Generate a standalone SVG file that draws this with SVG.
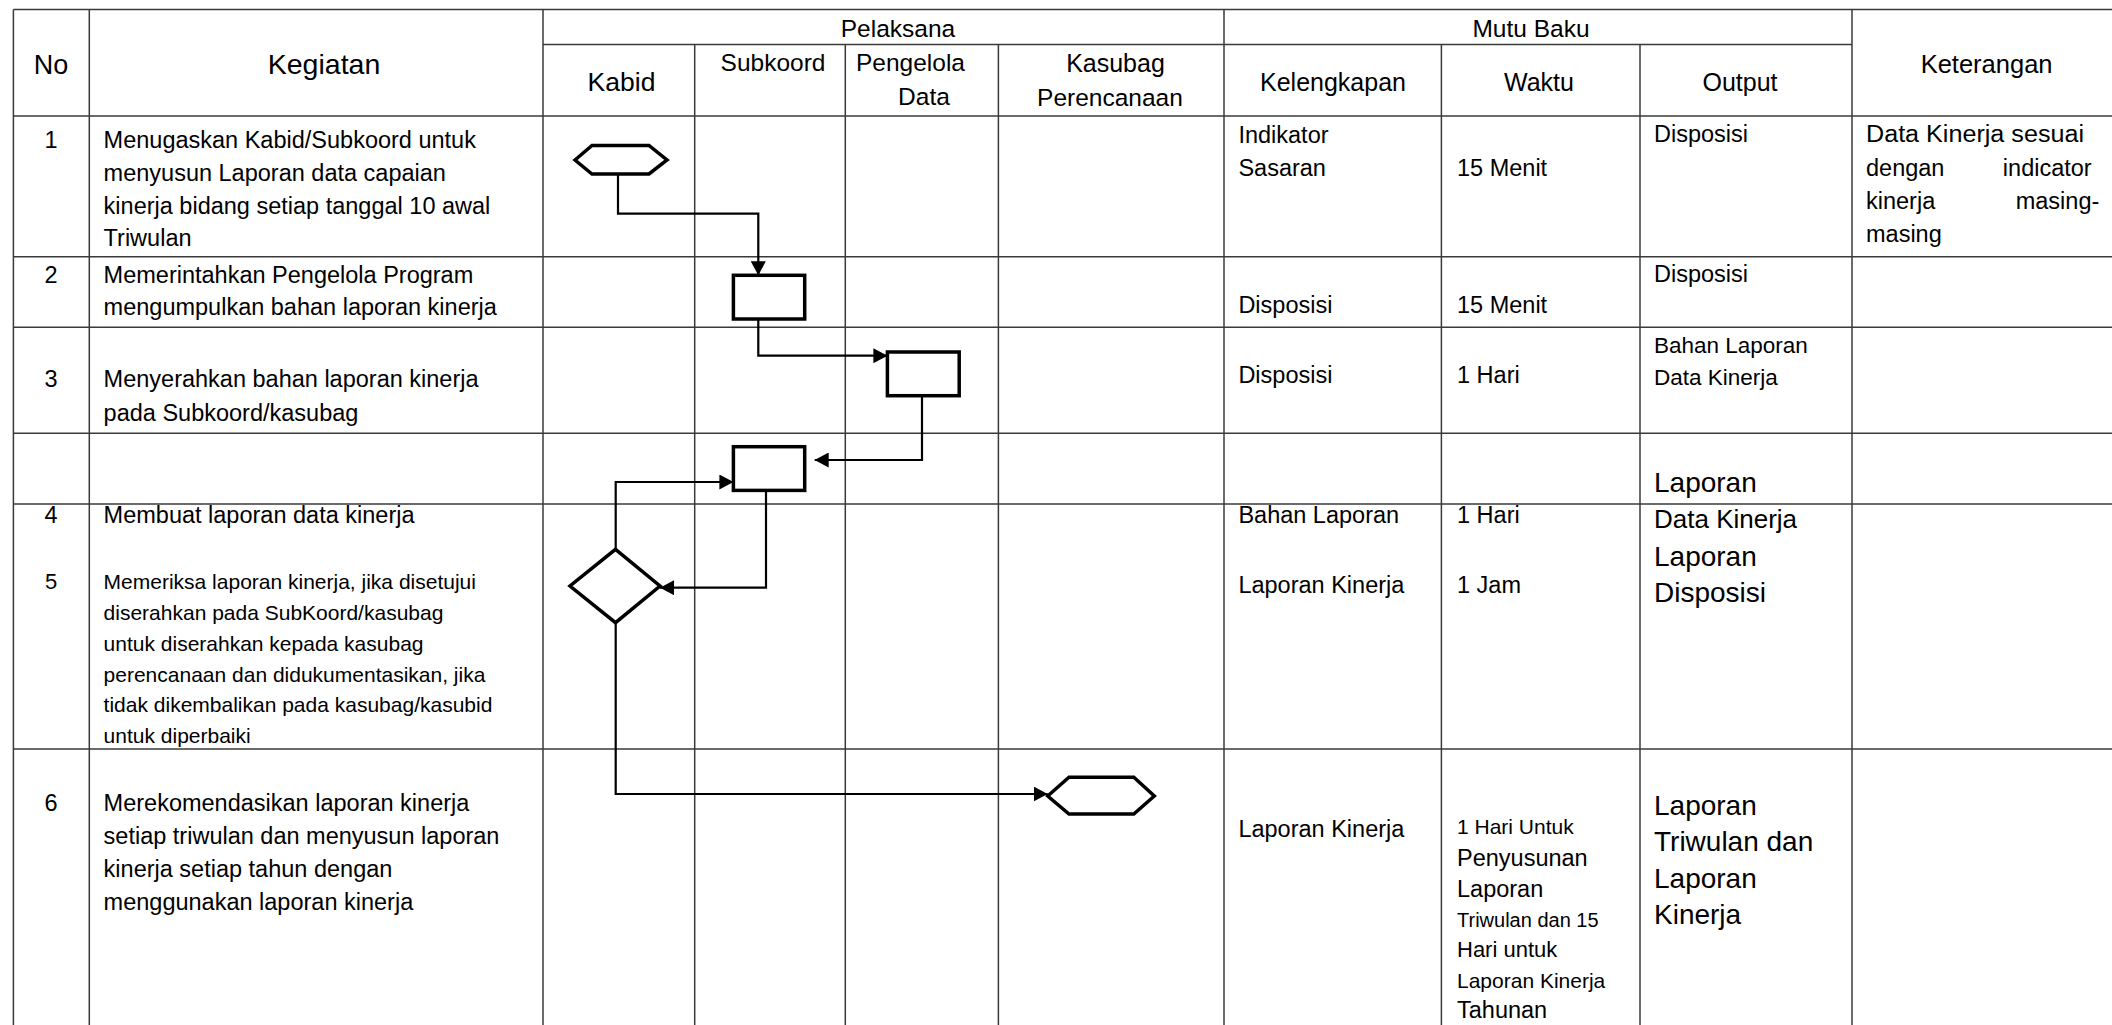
<svg xmlns="http://www.w3.org/2000/svg" width="2112" height="1025" viewBox="0 0 2112 1025">
<style>
text{font-family:"Liberation Sans",Arial,sans-serif;fill:#000;font-size:23.5px}
.h1{font-size:24.5px}
.h2{font-size:25px}
.big{font-size:28px}
.sm{font-size:21px}
.m{text-anchor:middle}
.e{text-anchor:end}
.grid line{stroke:#3a3a3a;stroke-width:1.5}
.shape{fill:#fff;stroke:#000;stroke-width:3.5;stroke-linejoin:miter}
.conn path{fill:none;stroke:#000;stroke-width:2.2}
</style>
<defs>
<marker id="ah" viewBox="0 0 14 15" refX="14" refY="7.5" markerWidth="14" markerHeight="15" markerUnits="userSpaceOnUse" orient="auto">
<path d="M0,0 L14,7.5 L0,15 z" fill="#000"/>
</marker>
</defs>
<rect width="2112" height="1025" fill="#fff"/>
<g id="table" class="grid">
<line x1="13.4" y1="9.5" x2="2112" y2="9.5"/>
<line x1="543" y1="44.5" x2="1852" y2="44.5"/>
<line x1="13.4" y1="116" x2="2112" y2="116"/>
<line x1="13.4" y1="256.7" x2="2112" y2="256.7"/>
<line x1="13.4" y1="327.3" x2="2112" y2="327.3"/>
<line x1="13.4" y1="433.3" x2="2112" y2="433.3"/>
<line x1="13.4" y1="504" x2="2112" y2="504"/>
<line x1="13.4" y1="749" x2="2112" y2="749"/>
<line x1="13.4" y1="9.5" x2="13.4" y2="1025"/>
<line x1="89.3" y1="9.5" x2="89.3" y2="1025"/>
<line x1="543" y1="9.5" x2="543" y2="1025"/>
<line x1="694.7" y1="44.5" x2="694.7" y2="1025"/>
<line x1="845.3" y1="44.5" x2="845.3" y2="1025"/>
<line x1="998.4" y1="44.5" x2="998.4" y2="1025"/>
<line x1="1224" y1="9.5" x2="1224" y2="1025"/>
<line x1="1441.4" y1="44.5" x2="1441.4" y2="1025"/>
<line x1="1640" y1="44.5" x2="1640" y2="1025"/>
<line x1="1852" y1="9.5" x2="1852" y2="1025"/>
</g>
<g id="headers">
<text class="m" x="51" y="74" style="font-size:27px">No</text>
<text class="m" x="324" y="74" style="font-size:28.5px">Kegiatan</text>
<text class="m h1" x="898" y="37.3">Pelaksana</text>
<text class="m h1" x="1531" y="37.3">Mutu Baku</text>
<text class="m" x="621.5" y="90.7" style="font-size:26.5px">Kabid</text>
<text class="m h1" x="773" y="70.7">Subkoord</text>
<text class="h1" x="856" y="70.7">Pengelola</text>
<text class="m h1" x="924" y="105">Data</text>
<text class="m h2" x="1115.5" y="71.7">Kasubag</text>
<text class="m h1" x="1110" y="106">Perencanaan</text>
<text class="m h2" x="1333" y="90.5">Kelengkapan</text>
<text class="m h2" x="1539" y="90.5">Waktu</text>
<text class="m h2" x="1740" y="90.5">Output</text>
<text class="m" x="1986.6" y="72.7" style="font-size:25.5px">Keterangan</text>
</g>
<g id="rows">
<text class="m" x="51" y="148.3">1</text>
<text x="103.6" y="148.3">Menugaskan Kabid/Subkoord untuk</text>
<text x="103.6" y="181">menyusun Laporan data capaian</text>
<text x="103.6" y="213.5">kinerja bidang setiap tanggal 10 awal</text>
<text x="103.6" y="246">Triwulan</text>
<text class="m" x="51" y="282.7">2</text>
<text x="103.6" y="282.7">Memerintahkan Pengelola Program</text>
<text x="103.6" y="315">mengumpulkan bahan laporan kinerja</text>
<text class="m" x="51" y="387.3">3</text>
<text x="103.6" y="387.3">Menyerahkan bahan laporan kinerja</text>
<text x="103.6" y="420.7">pada Subkoord/kasubag</text>
<text class="m" x="51" y="523.3">4</text>
<text x="103.6" y="523.3">Membuat laporan data kinerja</text>
<text class="m" x="51" y="589" style="font-size:22px">5</text>
<text class="sm" x="103.6" y="589">Memeriksa laporan kinerja, jika disetujui</text>
<text class="sm" x="103.6" y="620">diserahkan pada SubKoord/kasubag</text>
<text class="sm" x="103.6" y="650.8">untuk diserahkan kepada kasubag</text>
<text class="sm" x="103.6" y="681.6">perencanaan dan didukumentasikan, jika</text>
<text class="sm" x="103.6" y="712.4">tidak dikembalikan pada kasubag/kasubid</text>
<text class="sm" x="103.6" y="743.2">untuk diperbaiki</text>
<text class="m" x="51" y="810.7">6</text>
<text x="103.6" y="810.7">Merekomendasikan laporan kinerja</text>
<text x="103.6" y="843.6">setiap triwulan dan menyusun laporan</text>
<text x="103.6" y="876.7">kinerja setiap tahun dengan</text>
<text x="103.6" y="910">menggunakan laporan kinerja</text>
</g>
<g id="mutu-baku">
<text x="1238.4" y="142.7">Indikator</text>
<text x="1238.4" y="176">Sasaran</text>
<text x="1238.4" y="313">Disposisi</text>
<text x="1238.4" y="383.3">Disposisi</text>
<text x="1238.4" y="523.3">Bahan Laporan</text>
<text x="1238.4" y="593.3">Laporan Kinerja</text>
<text x="1238.4" y="836.7">Laporan Kinerja</text>
<text x="1457" y="175.7">15 Menit</text>
<text x="1457" y="313">15 Menit</text>
<text x="1457" y="383.3">1 Hari</text>
<text x="1457" y="523.3">1 Hari</text>
<text x="1457" y="593.3">1 Jam</text>
<text class="sm" x="1457" y="834.3">1 Hari Untuk</text>
<text x="1457" y="865.7">Penyusunan</text>
<text x="1457" y="896.7">Laporan</text>
<text x="1457" y="926.7" style="font-size:20px">Triwulan dan 15</text>
<text x="1457" y="956.7" style="font-size:22px">Hari untuk</text>
<text class="sm" x="1457" y="988.3">Laporan Kinerja</text>
<text x="1457" y="1018.3">Tahunan</text>
<text x="1654" y="141.7">Disposisi</text>
<text x="1654" y="281.7">Disposisi</text>
<text x="1654" y="352.7" style="font-size:22.5px">Bahan Laporan</text>
<text x="1654" y="385" style="font-size:22.5px">Data Kinerja</text>
<text class="big" x="1654" y="491.7">Laporan</text>
<text class="big" x="1654" y="528.3" style="font-size:26px">Data Kinerja</text>
<text class="big" x="1654" y="566">Laporan</text>
<text class="big" x="1654" y="601.7">Disposisi</text>
<text class="big" x="1654" y="815">Laporan</text>
<text class="big" x="1654" y="851">Triwulan dan</text>
<text class="big" x="1654" y="888.3">Laporan</text>
<text class="big" x="1654" y="924">Kinerja</text>
<text x="1866" y="142" textLength="218" lengthAdjust="spacingAndGlyphs">Data Kinerja sesuai</text>
<text x="1866" y="175.5">dengan</text>
<text class="e" x="2091.7" y="175.5">indicator</text>
<text x="1866" y="209">kinerja</text>
<text class="e" x="2099.3" y="209">masing-</text>
<text x="1866" y="242">masing</text>
</g>
<g id="connectors" class="conn">
<path d="M618,174 V213.7 H758.3 V275.3" marker-end="url(#ah)"/>
<path d="M758.3,319 V355.7 H887.4" marker-end="url(#ah)"/>
<path d="M922,395.7 V460 H814.7" marker-end="url(#ah)"/>
<path d="M615.7,549.3 V482 H733.4" marker-end="url(#ah)"/>
<path d="M766,490.7 V587.7 H660" marker-end="url(#ah)"/>
<path d="M615.7,622.7 V794 H1047.7" marker-end="url(#ah)"/>
</g>
<g id="node-start">
<polygon class="shape" points="575,160 592,145.5 649,145.5 667,160 649,174 592,174"/>
</g>
<g id="node-subkoord-1">
<rect class="shape" x="733.4" y="275.3" width="71.3" height="43.7"/>
</g>
<g id="node-pengelola">
<rect class="shape" x="887.4" y="352" width="71.8" height="43.7"/>
</g>
<g id="node-subkoord-2">
<rect class="shape" x="733.4" y="446.7" width="71.3" height="43.7"/>
</g>
<g id="node-decision">
<polygon class="shape" points="615.5,549.3 660,586 615.5,622.7 570,586"/>
</g>
<g id="node-end">
<polygon class="shape" points="1047.7,796 1069,777.3 1133.8,777.3 1154.3,796 1133.8,814 1069,814"/>
</g>
</svg>
